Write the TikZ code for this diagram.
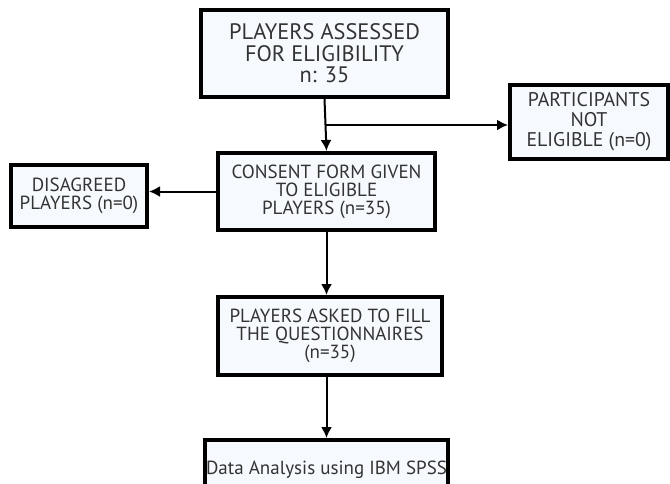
\documentclass[tikz,border=0pt]{standalone}
\usepackage{fontspec}
\setmainfont{PT Sans}
\usetikzlibrary{arrows.meta}
\definecolor{BoxFill}{HTML}{F6FAFE}
\definecolor{BoxText}{HTML}{333333}
\tikzset{FlowBox/.style={
    inner sep=0pt,
    draw=black,
    line width=2pt,
    fill=BoxFill,
    text=BoxText,
    align=center,
    font=\fontsize{9.5}{9}\selectfont
    }
}
\tikzset{FlowArrow/.style={
    draw=black,
    line width=1pt,
    -{Latex[length=5.5pt,width=5.5pt]}
    }
}

\begin{document}
\begin{tikzpicture}[x=0.5pt,y=-0.5pt]
    \clip (0,0) rectangle (670,483);
    \fill[white] (0,0) rectangle (670,483);

    \node (assessed) [FlowBox, minimum width=123.5pt, minimum height=43.5pt,
        font=\fontsize{11.2}{10.8}\selectfont] at (324.5,53.5)
    {PLAYERS ASSESSED\\FOR ELIGIBILITY\\n: 35};

    \node (noteligible) [FlowBox, minimum width=79pt, minimum height=37pt,
        font=\fontsize{9.9}{10}\selectfont] at (589,122)
    {PARTICIPANTS\\NOT\\ELIGIBLE (n=0)};

    \node (consent) [FlowBox, minimum width=108.5pt, minimum height=38.5pt] at (326.5,191.5)
    {CONSENT FORM GIVEN\\TO ELIGIBLE\\PLAYERS (n=35)};

    \node (disagreed) [FlowBox, minimum width=68pt, minimum height=31pt] at (79,196)
    {DISAGREED\\PLAYERS (n=0)};

    \node (questions) [FlowBox, minimum width=112pt, minimum height=39pt] at (330,336)
    {PLAYERS ASKED TO FILL\\THE QUESTIONNAIRES\\(n=35)};

    \node (analysis) [FlowBox, minimum width=121.5pt, minimum height=30pt] at (326.5,470)
    {Data Analysis using IBM SPSS};

    % main line and side branch
    \coordinate (branch) at (assessed.south |- 0,125);
    \draw[FlowArrow] (assessed.south) -- (consent.north);
    \draw[FlowArrow] (branch) -- (branch -| noteligible.west);

    \draw[FlowArrow] (consent.west) -- (consent.west -| disagreed.east);
    \draw[FlowArrow] (consent.south) -- (consent.south |- questions.north);
    \draw[FlowArrow] (questions.south -| consent.south) -- (consent.south |- analysis.north);

\end{tikzpicture}
\end{document}
